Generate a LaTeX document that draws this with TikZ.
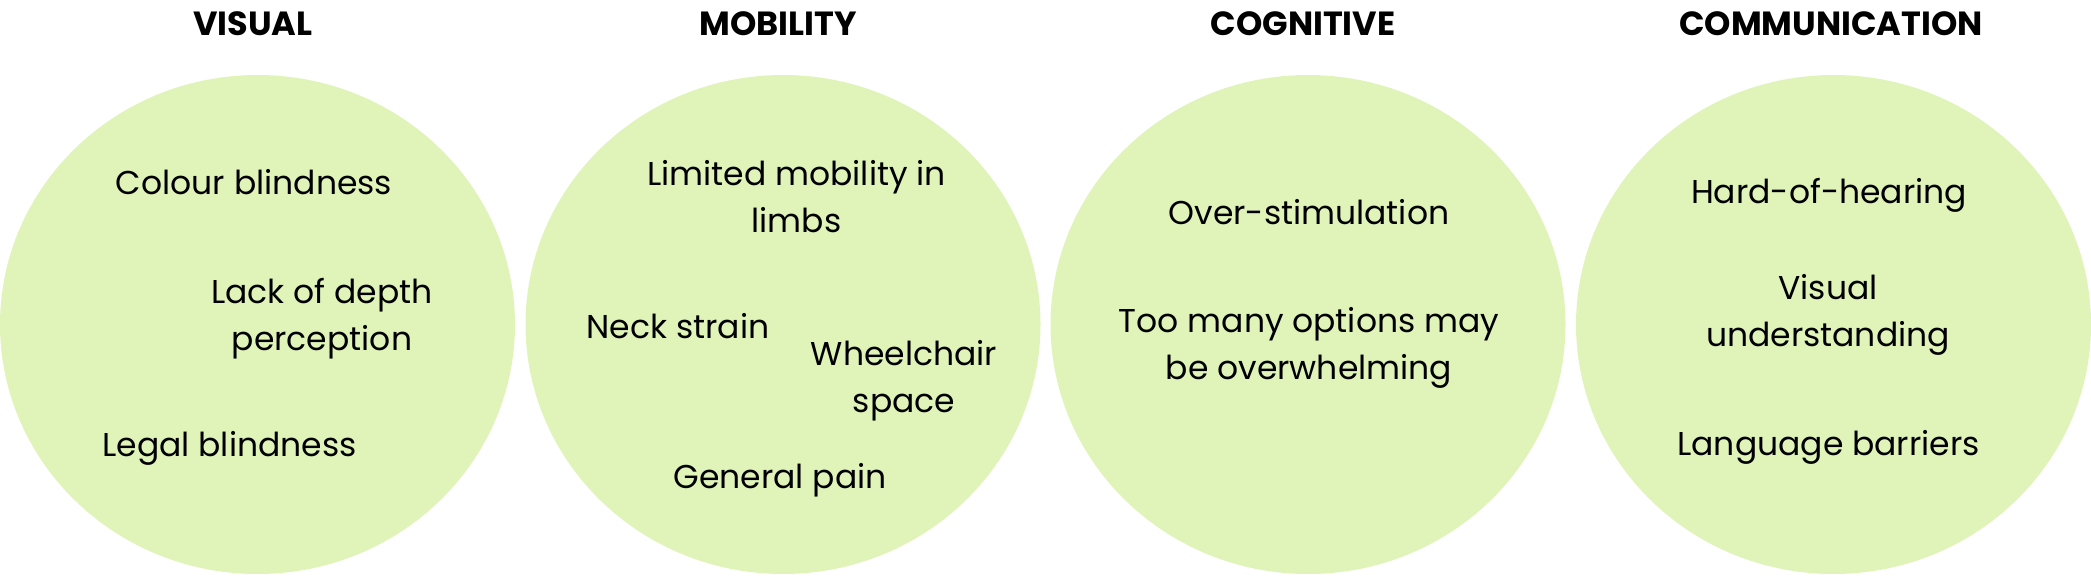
\documentclass[tikz,border=0pt]{standalone}
\usepackage{fontspec}
\setmainfont{Poppins}
\usetikzlibrary{shapes.geometric}
\definecolor{blobgreen}{RGB}{224,244,186}
\begin{document}
\begin{tikzpicture}[x=1pt,y=1pt,
  blob/.style={ellipse,fill=blobgreen,draw=none,minimum width=515pt,minimum height=499pt,inner sep=0pt},
  head/.style={anchor=base,inner sep=0pt,font=\fontsize{33.5}{40}\selectfont\bfseries},
  item/.style={anchor=base,inner sep=0pt,align=center,font=\fontsize{33}{47}\selectfont}]
\useasboundingbox (0,0) rectangle (2091,576);
\node[blob] (c1) at (257.5,251.5) {};
\node[blob] (c2) at (783,251.5) {};
\node[blob] (c3) at (1308,251.5) {};
\node[blob] (c4) at (1833.5,251.5) {};
\node[head] (h1) at (253,540) {VISUAL};
\node[head] (h2) at (778,540) {MOBILITY};
\node[head] (h3) at (1303,540) {COGNITIVE};
\node[head] (h4) at (1831,540) {COMMUNICATION};
\node[item] (v1) at (254,381) {Colour blindness};
\node[item] (v2) at (322,225) {Lack of depth\\perception};
\node[item] (v3) at (229.5,120) {Legal blindness};
\node[item] (m1) at (796.6,343.5) {Limited mobility in\\limbs};
\node[item] (m2) at (678,237) {Neck strain};
\node[item] (m3) at (904,163.5) {Wheelchair\\space};
\node[item] (m4) at (780,87.4) {General pain};
\node[item] (g1) at (1309,351) {Over-stimulation};
\node[item] (g2) at (1309,196.5) {Too many options may\\be overwhelming};
\node[item] (k1) at (1829,372) {Hard-of-hearing};
\node[item] (k2) at (1828,229.6) {Visual\\understanding};
\node[item] (k3) at (1828.5,120.5) {Language barriers};
\end{tikzpicture}
\end{document}
